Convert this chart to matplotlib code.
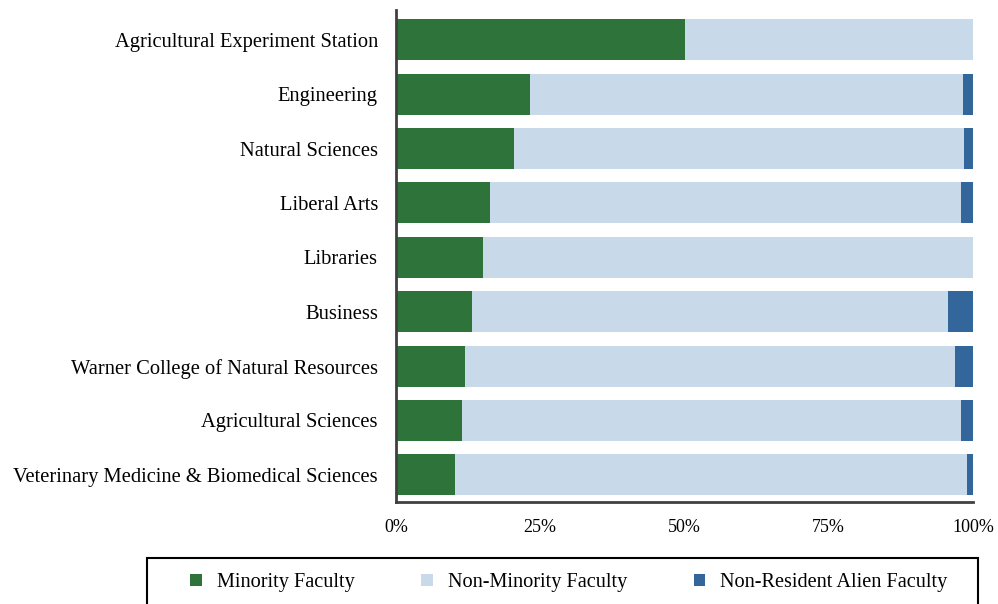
import matplotlib.pyplot as plt
from matplotlib.patches import Rectangle

colleges = ["Agricultural Experiment Station", "Engineering", "Natural Sciences",
            "Liberal Arts", "Libraries", "Business",
            "Warner College of Natural Resources", "Agricultural Sciences",
            "Veterinary Medicine & Biomedical Sciences"]
minority = [50.0, 23.2, 20.4, 16.3, 15.0, 13.2, 12.0, 11.4, 10.2]
alien = [0.0, 1.8, 1.6, 2.1, 0.0, 4.3, 3.1, 2.1, 1.1]
non_minority = [100 - m - a for m, a in zip(minority, alien)]
ticks = [0, 25, 50, 75, 100]

plt.rcParams['font.family'] = ['Liberation Serif', 'DejaVu Serif']

fig = plt.figure(figsize=(9.98, 6.04), dpi=100)
ax = fig.add_axes([396/998, 1 - 502/604, 577/998, 492/604])

y = list(range(len(colleges)))
ax.barh(y, minority, height=0.754, color="#2e743a", label="Minority Faculty")
ax.barh(y, non_minority, left=minority, height=0.754, color="#c8d9ea",
        label="Non-Minority Faculty")
left3 = [m + n for m, n in zip(minority, non_minority)]
ax.barh(y, alien, left=left3, height=0.754, color="#33679c",
        label="Non-Resident Alien Faculty")

ax.set_yticks(y)
ax.set_yticklabels(colleges, fontsize=14.8)
ax.set_ylim(8.5, -0.548)
ax.set_xlim(0, 100)
ax.set_xticks(ticks)
ax.set_xticklabels([f"{t}%" for t in ticks], fontsize=13)
ax.tick_params(axis='x', length=0, pad=12)
ax.tick_params(axis='y', length=0, pad=13)
for s in ["top", "right"]:
    ax.spines[s].set_visible(False)
for s in ["left", "bottom"]:
    ax.spines[s].set_color("#404040")
    ax.spines[s].set_linewidth(2)

# legend box runs off the bottom edge
fig.patches.append(Rectangle((147/998, -0.01), 831/998, 1 - 558/604 + 0.01,
                             transform=fig.transFigure, fill=False,
                             edgecolor="black", linewidth=1.5))
h, l = ax.get_legend_handles_labels()
fig.legend(h, l, loc="center", bbox_to_anchor=(569/998, 1 - 583/604), ncol=3,
           frameon=False, fontsize=14.6, handlelength=0.55, handleheight=0.55,
           columnspacing=3.3, handletextpad=0.75, borderpad=0)

fig.savefig("out.png", dpi=100)
